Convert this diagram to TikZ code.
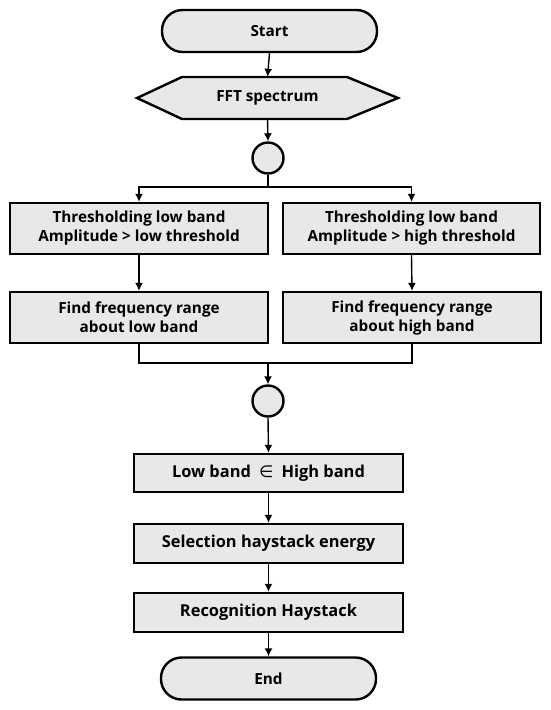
\documentclass[tikz,border=0pt]{standalone}
\usepackage{fontspec}
\setmainfont{Open Sans}
\newfontfamily\symfont{DejaVu Sans}
\usetikzlibrary{arrows.meta}
\definecolor{boxgray}{RGB}{232,232,232}
\begin{document}
\begin{tikzpicture}[x=1pt,y=-1pt,
  boxline/.style={draw=black, line width=2.4pt, fill=boxgray},
  box/.style={boxline, font=\bfseries\fontsize{15.3}{19}\selectfont, align=center, inner sep=0pt},
  bigbox/.style={box, font=\bfseries\fontsize{16.4}{20}\selectfont, minimum width=269pt, minimum height=39pt},
  term/.style={box, rounded corners=20.5pt, minimum width=215pt, minimum height=42pt},
  junc/.style={boxline, circle, minimum size=31pt, inner sep=0pt},
  conn/.style={line width=1.4pt, -{Latex[length=8pt,width=8pt]}},
  plain/.style={line width=1.4pt}]
\useasboundingbox (0,0) rectangle (550,710);
% terminals and nodes
\node[term] (start) at (269.5,31) {Start};
\draw[boxline] (137,98) -- (182,77) -- (347,77) -- (398,98) -- (347,119) -- (182,119) -- cycle;
\node[font=\bfseries\fontsize{15.3}{19}\selectfont, minimum width=261pt, minimum height=42pt, inner sep=0pt] (fft) at (267.5,98) {FFT spectrum};
\node[junc] (c1) at (268,158) {};
\node[box, minimum width=258pt, minimum height=51pt] (t1) at (139,228.5) {Thresholding low band\\Amplitude > low threshold};
\node[box, minimum width=257pt, minimum height=51pt] (t2) at (411.5,228.5) {Thresholding low band\\Amplitude > high threshold};
\node[box, minimum width=258pt, minimum height=51pt] (f1) at (139,317.5) {Find frequency range\\about low band};
\node[box, minimum width=258pt, minimum height=51pt] (f2) at (412,317.5) {Find frequency range\\about high band};
\node[junc] (c2) at (268,401) {};
\node[bigbox, minimum height=38pt] (lb) at (268.5,473) {Low band\hspace{0.5em}{\symfont\mdseries ∈}\hspace{0.5em}High band};
\node[bigbox] (sel) at (268.5,543.5) {Selection haystack energy};
\node[bigbox] (rec) at (268.5,612.5) {Recognition Haystack};
\node[term] (end) at (268.5,678.5) {End};
\coordinate (s1) at (268,187);
\coordinate (m1) at (268,363);
% connectors
\draw[conn] (start.south) -- (fft.north);
\draw[conn] (fft.south) -- (c1.north);
\draw[plain] (c1.south) -- (s1);
\draw[conn] (s1) -| (t1.north);
\draw[conn] (s1) -| (t2.north);
\draw[conn] (t1.south) -- (f1.north);
\draw[conn] (t2.south) -- (f2.north);
\draw[plain] (f1.south) |- (m1);
\draw[plain] (f2.south) |- (m1);
\draw[conn] (m1) -- (c2.north);
\draw[conn] (c2.south) -- (lb.north);
\draw[conn] (lb.south) -- (sel.north);
\draw[conn] (sel.south) -- (rec.north);
\draw[conn] (rec.south) -- (end.north);
\end{tikzpicture}
\end{document}
